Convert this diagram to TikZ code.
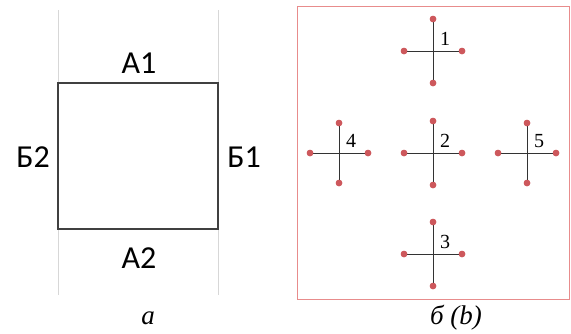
\documentclass[tikz,border=0pt]{standalone}
\usepackage{fontspec}
\setmainfont{Liberation Serif}
\newfontfamily\calib{Carlito}
\definecolor{dotred}{RGB}{205,88,92}
\definecolor{framered}{RGB}{232,140,140}
\definecolor{guide}{RGB}{215,215,215}
\begin{document}
\begin{tikzpicture}[x=1pt,y=-1pt,
  guideline/.style={draw=guide,line width=0.7pt},
  sidebox/.style={draw=black!75,line width=1.2pt},
  sidelabel/.style={font=\calib\fontsize{32}{33}\selectfont,inner sep=0pt},
  caption/.style={font=\itshape\fontsize{27}{28}\selectfont,inner sep=0pt},
  arm/.style={draw=black!80,line width=1pt},
  pin/.style={circle,fill=dotred,inner sep=0pt,minimum size=6.5pt},
  num/.style={font=\fontsize{20}{21}\selectfont,inner sep=0pt}]
\useasboundingbox (0,0) rectangle (571,333);
% panel a
\coordinate (g1t) at (58,10);
\coordinate (g1b) at (58,295);
\coordinate (g2t) at (218,10);
\coordinate (g2b) at (218,295);
\draw[guideline] (g1t) -- (g1b);
\draw[guideline] (g2t) -- (g2b);
\node[sidebox,minimum width=160pt,minimum height=146pt,inner sep=0pt] (sq) at (138,156) {};
\node[sidelabel] (A1) at (139,63) {А1};
\node[sidelabel] (A2) at (139,258) {А2};
\node[sidelabel] (B2) at (33,157) {Б2};
\node[sidelabel] (B1) at (244,157) {Б1};
\node[caption] (ca) at (148,318) {a};
% panel b
\node[draw=framered,line width=1pt,minimum width=272pt,minimum height=293pt,inner sep=0pt] (fr) at (433,152.5) {};
\node[caption] (cb) at (456,318) {б (b)};
\foreach \n/\cx/\cy/\hx/\hy in {1/433/51/29/32, 2/433/153/29/32, 3/433/254/29/32, 4/339/153/29/30, 5/527/153/29/30}{
  \coordinate (c\n) at (\cx,\cy);
  \node[pin] (t\n) at (\cx,\cy-\hy) {};
  \node[pin] (b\n) at (\cx,\cy+\hy) {};
  \node[pin] (l\n) at (\cx-\hx,\cy) {};
  \node[pin] (r\n) at (\cx+\hx,\cy) {};
  \draw[arm] (t\n.center) -- (b\n.center);
  \draw[arm] (l\n.center) -- (r\n.center);
  \node[pin] at (t\n) {};
  \node[pin] at (b\n) {};
  \node[pin] at (l\n) {};
  \node[pin] at (r\n) {};
  \node[num] (n\n) at (\cx+12,\cy-12) {\n};
}
\end{tikzpicture}
\end{document}
